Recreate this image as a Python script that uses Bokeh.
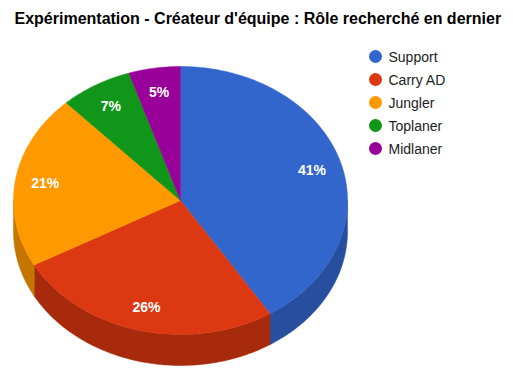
import numpy as np
from bokeh.plotting import figure
from bokeh.models import Range1d
from bokeh.embed import file_html
from bokeh.resources import INLINE
from bokeh.core.properties import value

title = "Expérimentation - Créateur d'équipe : Rôle recherché en dernier"
categories = ["Support", "Carry AD", "Jungler", "Toplaner", "Midlaner"]
values = [41, 26, 21, 7, 5]
top_colors = ["#3366cc", "#dc3912", "#ff9900", "#109618", "#990099"]
side_colors = ["#284f9f", "#a82a0d", "#c47600", "#0c7313", "#750075"]

# geometry (in page pixel coordinates)
cx, cy, rx, ry, depth = 180.0, 200.0, 167.0, 134.0, 31.0

W, H = 510, 374
p = figure(width=W, height=H, output_backend="svg", toolbar_location=None,
           x_range=Range1d(0, W), y_range=Range1d(H, 0), min_border=0)
p.axis.visible = False
p.grid.visible = False
p.outline_line_color = None
p.background_fill_color = "white"
p.border_fill_color = "white"

total = float(sum(values))
fr = np.cumsum([0] + values) / total
angles = fr * 2 * np.pi

def ex(t):
    return cx + rx * np.sin(t)

def ey(t):
    return cy - ry * np.cos(t)

# side walls (front half: t in [pi/2, 3pi/2])
for i in range(len(values)):
    a, b = angles[i], angles[i + 1]
    lo, hi = max(a, np.pi / 2), min(b, 3 * np.pi / 2)
    if hi <= lo:
        continue
    t = np.linspace(lo, hi, 80)
    xs = list(ex(t)) + list(ex(t[::-1]))
    ys = list(ey(t)) + list(ey(t[::-1]) + depth)
    p.patch(xs, ys, fill_color=side_colors[i], line_color=side_colors[i], line_width=0.5)

# top slices
for i in range(len(values)):
    a, b = angles[i], angles[i + 1]
    t = np.linspace(a, b, 150)
    xs = [cx] + list(ex(t))
    ys = [cy] + list(ey(t))
    p.patch(xs, ys, fill_color=top_colors[i], line_color=top_colors[i], line_width=0.5)

# labels
mids = (angles[:-1] + angles[1:]) / 2
lx = cx + 0.82 * rx * np.sin(mids)
ly = cy - 0.82 * ry * np.cos(mids)
labels = [f"{v:.0f}%" for v in values]
p.text(x=list(lx), y=list(ly), text=labels, text_color="white",
       text_font=value("Liberation Sans"), text_font_style="bold",
       text_font_size="14px", text_align="center", text_baseline="middle")

# title
p.text(x=[14], y=[18], text=[title], text_color="#000000",
       text_font=value("Liberation Sans"), text_font_style="bold",
       text_font_size="16px", text_align="left", text_baseline="middle")

# legend
leg_y = [56 + 23 * i for i in range(len(categories))]
p.scatter(x=[375] * len(categories), y=leg_y, size=13, fill_color=top_colors,
          line_color=None, marker="circle")
p.text(x=[388] * len(categories), y=leg_y, text=categories, text_color="#222222",
       text_font=value("Liberation Sans"), text_font_size="14px",
       text_align="left", text_baseline="middle")

open("out.html", "w").write(file_html(p, INLINE))
